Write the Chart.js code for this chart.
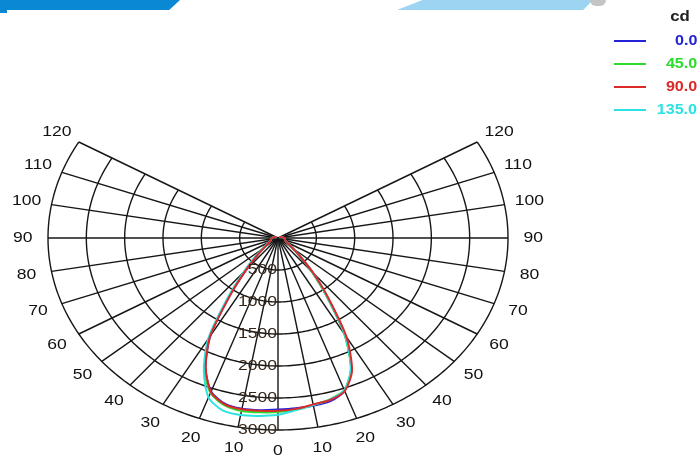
<!DOCTYPE html>
<html lang="en">
  <head>
    <meta charset="UTF-8" />
    <script src="https://cdn.jsdelivr.net/npm/chart.js"></script>
    <style>
      body { margin: 0; background: #fff; width: 699px; height: 455px; overflow: hidden; position: relative; font-family: "Liberation Sans", Arial, sans-serif; }
      #polar { position: absolute; left: 0; top: 0; }
      .deco { position: absolute; }
      #legend { position: absolute; right: 2px; top: 8px; width: 100px; }
      #legend .unit { text-align: right; font-weight: bold; font-size: 14px; color: #222; padding-right: 6px; height: 22px; transform: scaleX(1.2); transform-origin: right; }
      #legend .row { position: relative; height: 23px; }
      #legend .row span.ln { position: absolute; left: 17px; top: 10px; width: 32px; height: 2px; }
      #legend .row span.tx { position: absolute; right: 0; top: 2px; font-size: 14px; font-weight: bold; transform: scaleX(1.15); transform-origin: right; }
    </style>
  </head>
  <body>
    <!-- bandeau du haut -->
    <div class="deco" style="left:0;top:0;width:180px;height:10px;background:#0a88d4;clip-path:polygon(0 0,100% 0,94% 100%,0 100%)"></div>
    <div class="deco" style="left:0;top:10px;width:7px;height:3px;background:#0a88d4"></div>
    <div class="deco" style="left:397px;top:0;width:196px;height:10px;background:#9dd4f2;clip-path:polygon(13% 0,100% 0,95% 100%,0 100%)"></div>
    <div class="deco" style="left:590px;top:0;width:16px;height:6px;background:#c4c4c4;border-radius:0 0 8px 8px"></div>

    <canvas id="polar" width="699" height="455"></canvas>
    <div id="legend"></div>

    <script>
      // angles gamma (degres) et intensites (cd) par plan C
      const angles = [0, 5, 10, 15, 20, 25, 30, 35, 40, 45, 50, 55, 60, 65, 70, 75, 80, 85, 90, 95, 100, 105, 110, 115, 120];
      const planeNames = ["0.0", "45.0", "90.0", "135.0"];
      const planeColors = ["#2323d8", "#2cdc2c", "#dc2a2a", "#2ee2e2"];
      const planeOrder = [4, 3, 1, 2];

      const cd0Right   = [2680, 2670, 2660, 2640, 2540, 2260, 1740, 1110, 700, 400, 250, 170, 130, 110, 100, 95, 90, 85, 80, 70, 60, 50, 40, 30, 20];
      const cd0Left    = [2680, 2700, 2710, 2680, 2550, 2240, 1760, 1090, 640, 380, 240, 165, 130, 110, 100, 95, 90, 85, 80, 70, 60, 50, 40, 30, 20];
      const cd45Right  = [2720, 2690, 2650, 2610, 2530, 2250, 1730, 1100, 690, 410, 250, 170, 130, 110, 100, 95, 90, 85, 80, 70, 60, 50, 40, 30, 20];
      const cd45Left   = [2720, 2735, 2745, 2705, 2575, 2265, 1790, 1120, 680, 420, 260, 175, 135, 115, 100, 95, 90, 85, 80, 70, 60, 50, 40, 30, 20];
      const cd90Right  = [2700, 2680, 2640, 2620, 2545, 2285, 1785, 1145, 720, 420, 255, 175, 135, 115, 100, 95, 90, 85, 80, 70, 60, 50, 40, 30, 20];
      const cd90Left   = [2700, 2710, 2718, 2690, 2560, 2230, 1770, 1080, 640, 380, 240, 165, 130, 110, 100, 95, 90, 85, 80, 70, 60, 50, 40, 30, 20];
      const cd135Right = [2760, 2700, 2650, 2615, 2530, 2250, 1740, 1120, 720, 430, 260, 175, 135, 115, 100, 95, 90, 85, 80, 70, 60, 50, 40, 30, 20];
      const cd135Left  = [2760, 2790, 2810, 2790, 2650, 2290, 1820, 1150, 700, 440, 265, 180, 135, 115, 100, 95, 90, 85, 80, 70, 60, 50, 40, 30, 20];

      const ringValues = [500, 1000, 1500, 2000, 2500, 3000];
      const spokeAngles = [-120, -110, -100, -90, -80, -70, -60, -50, -40, -30, -20, -10, 0, 10, 20, 30, 40, 50, 60, 70, 80, 90, 100, 110, 120];

      const rad = (d) => (d * Math.PI) / 180;

      // gauche (C+180) de 120 vers 0, puis droite de 0 vers 120
      function toPoints(right, left) {
        const pts = [];
        for (let i = angles.length - 1; i >= 0; i--) {
          pts.push({ x: -left[i] * Math.sin(rad(angles[i])), y: -left[i] * Math.cos(rad(angles[i])) });
        }
        for (let i = 1; i < angles.length; i++) {
          pts.push({ x: right[i] * Math.sin(rad(angles[i])), y: -right[i] * Math.cos(rad(angles[i])) });
        }
        return pts;
      }

      const curves = [
        toPoints(cd0Right, cd0Left),
        toPoints(cd45Right, cd45Left),
        toPoints(cd90Right, cd90Left),
        toPoints(cd135Right, cd135Left),
      ];

      // texte etire horizontalement comme l'original
      function stretchedText(ctx, txt, x, y, align) {
        ctx.save();
        ctx.translate(x, y);
        ctx.scale(1.17, 1);
        ctx.textAlign = align;
        ctx.fillText(txt, 0, 0);
        ctx.restore();
      }

      const polarGrid = {
        id: "polarGrid",
        beforeDatasetsDraw(chart) {
          const { ctx } = chart;
          const sx = chart.scales.x, sy = chart.scales.y;
          const P = (r, a) => [sx.getPixelForValue(r * Math.sin(rad(a))), sy.getPixelForValue(-r * Math.cos(rad(a)))];
          ctx.save();
          ctx.strokeStyle = "#161616";
          ctx.lineWidth = 1.4;
          ringValues.forEach((r) => {
            ctx.beginPath();
            for (let a = -120; a <= 120; a++) {
              const [px, py] = P(r, a);
              if (a === -120) ctx.moveTo(px, py); else ctx.lineTo(px, py);
            }
            ctx.stroke();
          });
          const maxR = ringValues[ringValues.length - 1];
          spokeAngles.forEach((a) => {
            const [cx, cy] = P(0, a);
            const [px, py] = P(maxR, a);
            ctx.beginPath();
            ctx.moveTo(cx, cy);
            ctx.lineTo(px, py);
            ctx.stroke();
          });
          ctx.restore();
        },
        afterDatasetsDraw(chart) {
          const { ctx } = chart;
          const sx = chart.scales.x, sy = chart.scales.y;
          const P = (r, a) => [sx.getPixelForValue(r * Math.sin(rad(a))), sy.getPixelForValue(-r * Math.cos(rad(a)))];
          ctx.save();
          ctx.font = "15px 'Liberation Sans', Arial, sans-serif";
          ctx.textBaseline = "middle";
          ctx.fillStyle = "#111";
          spokeAngles.forEach((a) => {
            const [px, py] = P(3330, a);
            stretchedText(ctx, String(Math.abs(a)), px, py, "center");
          });
          ctx.fillStyle = "#35261a";
          ringValues.forEach((r) => {
            const [px, py] = P(r, 0);
            stretchedText(ctx, String(r), px - 1, py, "right");
          });
          ctx.restore();
        },
      };

      const chart = new Chart(document.getElementById("polar"), {
        type: "scatter",
        data: {
          datasets: planeNames.map((name, i) => ({
            label: name,
            data: curves[i],
            showLine: true,
            borderColor: planeColors[i],
            borderWidth: 2,
            pointRadius: 0,
            tension: 0.25,
            order: planeOrder[i],
            clip: false,
          })),
        },
        options: {
          responsive: false,
          animation: false,
          layout: { padding: { left: 48, right: 191, top: 46, bottom: 25 } },
          plugins: { legend: { display: false }, tooltip: { enabled: false } },
          scales: {
            x: { type: "linear", min: -3000, max: 3000, display: false },
            y: { type: "linear", min: -3000, max: 3000, display: false },
          },
        },
        plugins: [polarGrid],
      });

      // legende a droite
      const legend = document.getElementById("legend");
      legend.innerHTML = '<div class="unit">cd</div>' + planeNames.map((n, i) =>
        '<div class="row"><span class="ln" style="background:' + planeColors[i] + '"></span>' +
        '<span class="tx" style="color:' + planeColors[i] + '">' + n + "</span></div>"
      ).join("");
    </script>
  </body>
</html>
